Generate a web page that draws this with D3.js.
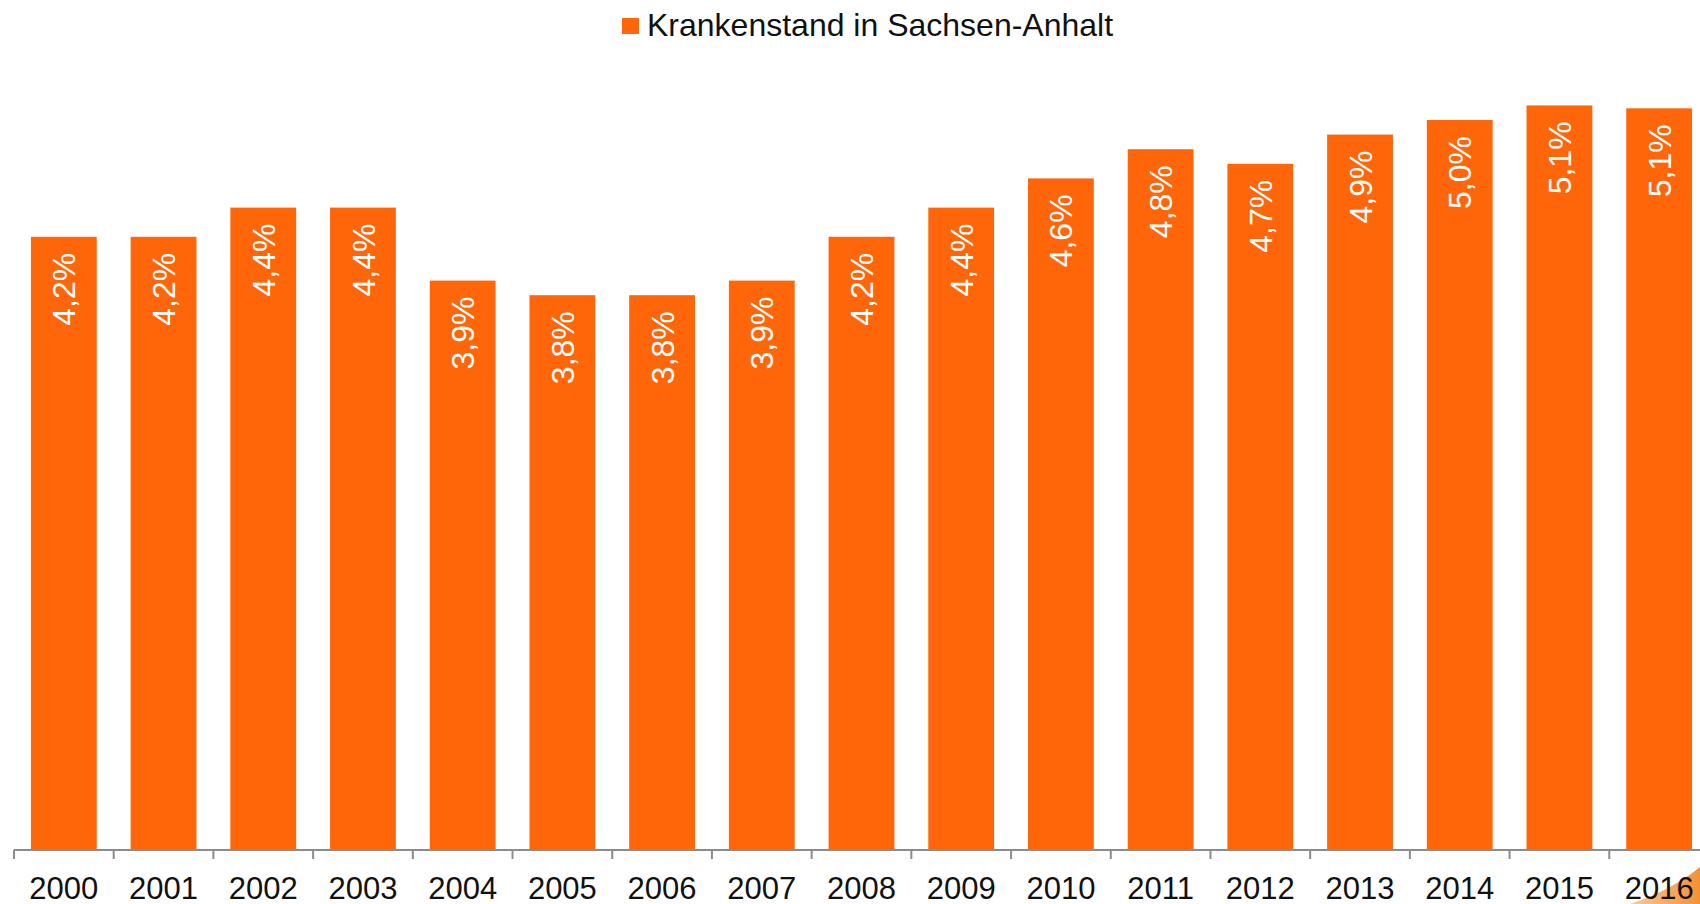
<!DOCTYPE html>
<html>
<head>
<meta charset="utf-8">
<script src="https://cdn.jsdelivr.net/npm/d3@7"></script>
<style>
  html, body { margin: 0; padding: 0; background: #fff; }
  svg { display: block; font-family: "Liberation Sans", Arial, Helvetica, sans-serif; }
</style>
</head>
<body>
<div id="chart"></div>
<script>
const width = 1700;
const height = 904;

// data
const years = ['2000', '2001', '2002', '2003', '2004', '2005', '2006', '2007', '2008',
  '2009', '2010', '2011', '2012', '2013', '2014', '2015', '2016'];
const krankenstand = [4.2, 4.2, 4.4, 4.4, 3.9, 3.8, 3.8, 3.9, 4.2,
  4.4, 4.6, 4.8, 4.7, 4.9, 5.0, 5.1, 5.08];
const seriesName = 'Krankenstand in Sachsen-Anhalt';

const barColor = '#ff660a';
const axisY = 850;

const svg = d3.select('#chart').append('svg')
  .attr('width', width)
  .attr('height', height);

const x = d3.scaleBand()
  .domain(years)
  .range([14, 1709])
  .paddingInner(0.34)
  .paddingOuter(0.17);

const y = d3.scaleLinear()
  .domain([0, 5.5])
  .range([axisY, 47]);

const fmt = v => d3.format('.1f')(v).replace('.', ',') + '%';

// bars
svg.append('g').attr('id', 'bars').selectAll('rect')
  .data(years)
  .enter()
  .append('rect')
  .attr('x', d => x(d))
  .attr('y', (d, i) => y(krankenstand[i]))
  .attr('width', x.bandwidth())
  .attr('height', (d, i) => axisY - y(krankenstand[i]))
  .style('fill', barColor);

// value labels, rotated inside the bar tops
svg.append('g').attr('id', 'labels').selectAll('text')
  .data(years)
  .enter()
  .append('text')
  .attr('transform', (d, i) => `translate(${x(d) + x.bandwidth() / 2},${y(krankenstand[i]) + 16}) rotate(-90)`)
  .attr('text-anchor', 'end')
  .attr('dy', '0.36em')
  .style('font-size', '32px')
  .style('fill', '#fff')
  .text((d, i) => fmt(krankenstand[i]));

// x axis: line + ticks on the band boundaries
const step = x.step();
const bounds = years.map(d => x(d) - (x.paddingInner() * step) / 2).concat([x.range()[1]]);
const axis = svg.append('g').attr('id', 'axis');

axis.append('line')
  .attr('x1', x.range()[0])
  .attr('x2', width)
  .attr('y1', axisY)
  .attr('y2', axisY)
  .attr('stroke', '#8c8c8c')
  .attr('stroke-width', 2);

axis.selectAll('line.tick')
  .data(bounds)
  .enter()
  .append('line')
  .attr('class', 'tick')
  .attr('x1', d => d)
  .attr('x2', d => d)
  .attr('y1', axisY)
  .attr('y2', axisY + 9)
  .attr('stroke', '#8c8c8c')
  .attr('stroke-width', 2);

axis.selectAll('text')
  .data(years)
  .enter()
  .append('text')
  .attr('x', d => x(d) + x.bandwidth() / 2)
  .attr('y', 899)
  .attr('text-anchor', 'middle')
  .style('font-size', '31px')
  .style('fill', '#111')
  .text(d => d);

// legend
const legend = svg.append('g').attr('id', 'legend');
legend.append('rect')
  .attr('x', 622)
  .attr('y', 18)
  .attr('width', 17)
  .attr('height', 16)
  .style('fill', barColor);
legend.append('text')
  .attr('x', 647)
  .attr('y', 36)
  .style('font-size', '32px')
  .style('fill', '#111')
  .text(seriesName);

// corner of the logo peeking in at the bottom right
const grad = svg.append('defs').append('linearGradient')
  .attr('id', 'logoGrad')
  .attr('x1', '0%').attr('x2', '100%')
  .attr('y1', '0%').attr('y2', '0%');
grad.append('stop').attr('offset', '0%').attr('stop-color', '#fbc79a');
grad.append('stop').attr('offset', '100%').attr('stop-color', '#f39235');
svg.append('path')
  .attr('d', 'M1630,904 Q1672,890 1700,867 L1700,904 Z')
  .style('fill', 'url(#logoGrad)');
svg.select('#axis').raise();
</script>
</body>
</html>
